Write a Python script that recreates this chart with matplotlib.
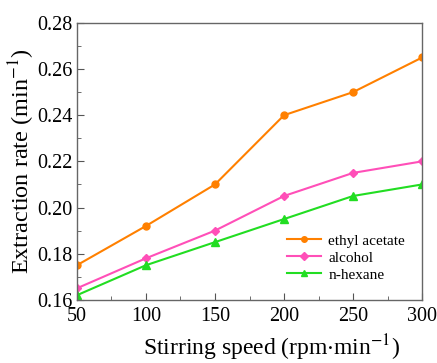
import matplotlib.pyplot as plt
from matplotlib.ticker import MultipleLocator

plt.rcParams['font.family'] = ['Liberation Serif', 'DejaVu Serif']
plt.rcParams['mathtext.fontset'] = 'stix'

velocidad = [50, 100, 150, 200, 250, 300]
acetato = [0.175, 0.192, 0.210, 0.240, 0.250, 0.265]
alcohol = [0.165, 0.178, 0.190, 0.205, 0.215, 0.220]
hexano = [0.162, 0.175, 0.185, 0.195, 0.205, 0.210]

fig = plt.figure(figsize=(4.37, 3.63), dpi=100)
ax = fig.add_axes([0.176, 0.174, 0.790, 0.763])

ax.plot(velocidad, acetato, color='#FF8000', marker='o', ms=5, lw=1.5, label='ethyl acetate')
ax.plot(velocidad, alcohol, color='#FF4FB8', marker='D', ms=4.5, lw=1.5, label='alcohol')
ax.plot(velocidad, hexano, color='#22DD22', marker='^', ms=5.5, lw=1.5, label='n-hexane')

ax.set_xlim(50, 300)
ax.set_ylim(0.16, 0.28)
ax.xaxis.set_major_locator(MultipleLocator(50))
ax.xaxis.set_minor_locator(MultipleLocator(25))
ax.yaxis.set_major_locator(MultipleLocator(0.02))
ax.yaxis.set_minor_locator(MultipleLocator(0.01))
ax.yaxis.set_major_formatter(lambda v, p: f'{v:.2f}')
ax.tick_params(which='both', direction='in', labelsize=14.5, color='#555555')
ax.tick_params(which='major', length=5)
ax.tick_params(which='minor', length=3)
ax.tick_params(axis='x', pad=5)
ax.tick_params(axis='y', pad=3)
for s in ax.spines.values():
    s.set_color('#666666')
    s.set_linewidth(1.0)

ax.set_xlabel('Stirring speed (rpm$\\cdot$min$^{-1}$)', fontsize=17)
ax.xaxis.set_label_coords(0.565, -0.118)
ax.set_ylabel('Extraction rate (min$^{-1}$)', fontsize=17.5, labelpad=0)

ax.legend(loc='upper left', frameon=False, fontsize=11, handlelength=2.2,
          handletextpad=0.5, labelspacing=0.22, borderpad=0, borderaxespad=0,
          markerscale=0.8, bbox_to_anchor=(287 / 437, 1 - 234 / 363),
          bbox_transform=fig.transFigure)

plt.savefig('out.png', dpi=100)
